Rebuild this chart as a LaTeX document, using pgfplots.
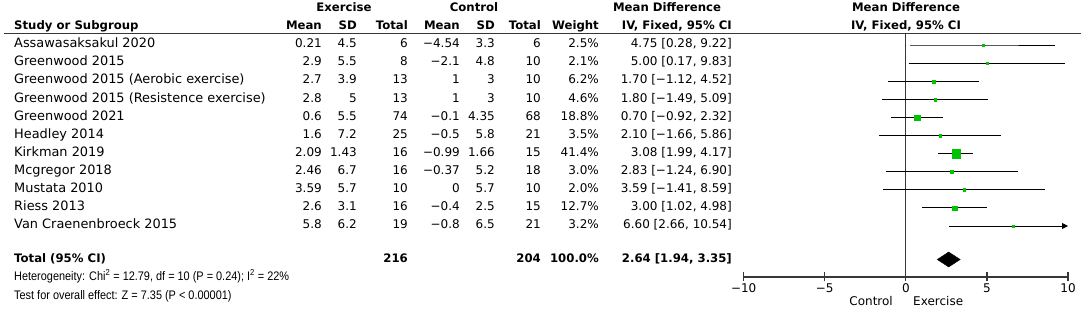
\documentclass[border=0pt]{standalone}
\usepackage{fontspec}
\setmainfont{DejaVu Sans}
\newfontfamily\hetfont[FakeStretch=0.88]{Liberation Sans}
\usepackage{pgfplots}
\pgfplotsset{compat=1.18}
\usetikzlibrary{arrows.meta}
\definecolor{sqgreen}{RGB}{0,196,0}
\definecolor{axgray}{RGB}{55,55,55}

\newcommand\fs{\fontsize{12}{14}\selectfont}
\newcommand\nfs{\fontsize{12.9}{15}\selectfont}
\newcommand\bfs{\fontsize{11.7}{14}\selectfont\bfseries}
\newcommand\R[3]{\node[anchor=mid east,inner sep=0pt] at (#1pt,-#2pt) {#3};}
\newcommand\Lf[3]{\node[anchor=mid west,inner sep=0pt] at (#1pt,-#2pt) {#3};}
\newcommand\C[3]{\node[anchor=mid,inner sep=0pt] at (#1pt,-#2pt) {#3};}
\newcommand\row[9]{%
  \Lf{14}{#1}{\nfs #2}
  \R{322}{#1}{#3}\R{357}{#1}{#4}\R{408}{#1}{#5}
  \R{460}{#1}{#6}\R{495}{#1}{#7}\R{541}{#1}{#8}
  \R{599}{#1}{#9}}
\tikzset{ci/.style={black, line width=0.9pt, mark=square*, mark indices={2},
  mark options={color=sqgreen, draw=sqgreen, fill=sqgreen, line width=0.1pt}}}

\begin{document}
\begin{tikzpicture}[font=\fs]
\useasboundingbox (0,0) rectangle (1084pt,-312pt);
% header
\begin{scope}[font=\bfs]
\C{344}{9}{Exercise}
\C{474}{9}{Control}
\C{667}{9}{Mean Difference}
\C{906}{9}{Mean Difference}
\Lf{14}{26.5}{Study or Subgroup}
\R{322}{26.5}{Mean}\R{357}{26.5}{SD}\R{408}{26.5}{Total}
\R{460}{26.5}{Mean}\R{495}{26.5}{SD}\R{541}{26.5}{Total}
\R{599}{26.5}{Weight}\R{732}{26.5}{IV, Fixed, 95\% CI}
\C{906}{26.5}{IV, Fixed, 95\% CI}
\end{scope}
\draw[axgray,line width=1.2pt] (4pt,-33.5pt) -- (1081pt,-33.5pt);
% rows
\row{45}{Assawasaksakul 2020}{0.21}{4.5}{6}{−4.54}{3.3}{6}{2.5\%}
\R{732}{45}{4.75 [0.28, 9.22]}
\row{63.1}{Greenwood 2015}{2.9}{5.5}{8}{−2.1}{4.8}{10}{2.1\%}
\R{732}{63.1}{5.00 [0.17, 9.83]}
\row{81.2}{Greenwood 2015 (Aerobic exercise)}{2.7}{3.9}{13}{1}{3}{10}{6.2\%}
\R{732}{81.2}{1.70 [−1.12, 4.52]}
\row{99.3}{Greenwood 2015 (Resistence exercise)}{2.8}{5}{13}{1}{3}{10}{4.6\%}
\R{732}{99.3}{1.80 [−1.49, 5.09]}
\row{117.4}{Greenwood 2021}{0.6}{5.5}{74}{−0.1}{4.35}{68}{18.8\%}
\R{732}{117.4}{0.70 [−0.92, 2.32]}
\row{135.5}{Headley 2014}{1.6}{7.2}{25}{−0.5}{5.8}{21}{3.5\%}
\R{732}{135.5}{2.10 [−1.66, 5.86]}
\row{153.6}{Kirkman 2019}{2.09}{1.43}{16}{−0.99}{1.66}{15}{41.4\%}
\R{732}{153.6}{3.08 [1.99, 4.17]}
\row{171.7}{Mcgregor 2018}{2.46}{6.7}{16}{−0.37}{5.2}{18}{3.0\%}
\R{732}{171.7}{2.83 [−1.24, 6.90]}
\row{189.8}{Mustata 2010}{3.59}{5.7}{10}{0}{5.7}{10}{2.0\%}
\R{732}{189.8}{3.59 [−1.41, 8.59]}
\row{207.9}{Riess 2013}{2.6}{3.1}{16}{−0.4}{2.5}{15}{12.7\%}
\R{732}{207.9}{3.00 [1.02, 4.98]}
\row{226}{Van Craenenbroeck 2015}{5.8}{6.2}{19}{−0.8}{6.5}{21}{3.2\%}
\R{732}{226}{6.60 [2.66, 10.54]}
% total
\begin{scope}[font=\bfs]
\Lf{14}{259.5}{Total (95\% CI)}
\R{408}{259.5}{216}\R{541}{259.5}{204}\R{599}{259.5}{100.0\%}
\R{732}{259.5}{2.64 [1.94, 3.35]}
\end{scope}
\begin{scope}[font=\hetfont\fontsize{12.4}{14}\selectfont]
\Lf{14}{277.5}{Heterogeneity: Chi\textsuperscript{2} = 12.79, df = 10 (P = 0.24); I\textsuperscript{2} = 22\%}
\Lf{14}{296.5}{Test for overall effect: Z = 7.35 (P < 0.00001)}
\end{scope}
\node[anchor=mid east,inner sep=0pt] at (893pt,-303pt) {Control};
\node[anchor=mid west,inner sep=0pt] at (913pt,-303pt) {Exercise};

\begin{axis}[
  at={(743.7pt,-277pt)}, anchor=south west,
  width=324.3pt, height=243.5pt, scale only axis,
  xmin=-10, xmax=10, ymin=-277, ymax=-33.5,
  axis x line*=bottom, axis y line=none,
  x axis line style={-, axgray, line width=1.3pt},
  xtick={-10,-5,0,5,10},
  xticklabels={−10,−5,0,5,10},
  tick align=center, major tick length=9pt,
  tick style={axgray, line width=1.2pt},
  xticklabel style={font=\fs, yshift=1pt},
  clip=false,
]
\draw[axgray, line width=1.2pt] (axis cs:0,-33.5) -- (axis cs:0,-277);
\addplot[ci, mark size=1.3] coordinates {(0.28,-45) (4.75,-45) (9.22,-45)};
\addplot[ci, mark size=1.3] coordinates {(0.17,-63.1) (5.00,-63.1) (9.83,-63.1)};
\addplot[ci, mark size=1.6] coordinates {(-1.12,-81.2) (1.70,-81.2) (4.52,-81.2)};
\addplot[ci, mark size=1.4] coordinates {(-1.49,-99.3) (1.80,-99.3) (5.09,-99.3)};
\addplot[ci, mark size=2.7] coordinates {(-0.92,-117.4) (0.70,-117.4) (2.32,-117.4)};
\addplot[ci, mark size=1.3] coordinates {(-1.66,-135.5) (2.10,-135.5) (5.86,-135.5)};
\addplot[ci, mark size=4.2] coordinates {(1.99,-153.6) (3.08,-153.6) (4.17,-153.6)};
\addplot[ci, mark size=1.3] coordinates {(-1.24,-171.7) (2.83,-171.7) (6.90,-171.7)};
\addplot[ci, mark size=1.3] coordinates {(-1.41,-189.8) (3.59,-189.8) (8.59,-189.8)};
\addplot[ci, mark size=2.2] coordinates {(1.02,-207.9) (3.00,-207.9) (4.98,-207.9)};
\addplot[black, line width=0.9pt, -{Triangle[length=6pt,width=6pt]}] coordinates {(2.66,-226) (10,-226)};
\addplot[only marks, mark=square*, mark size=1.3, mark options={color=sqgreen, draw=sqgreen, fill=sqgreen, line width=0.1pt}] coordinates {(6.60,-226)};
\addplot[fill=black, draw=black] coordinates {(1.94,-259.5) (2.64,-252) (3.35,-259.5) (2.64,-267)} -- cycle;
\end{axis}
\end{tikzpicture}
\end{document}
